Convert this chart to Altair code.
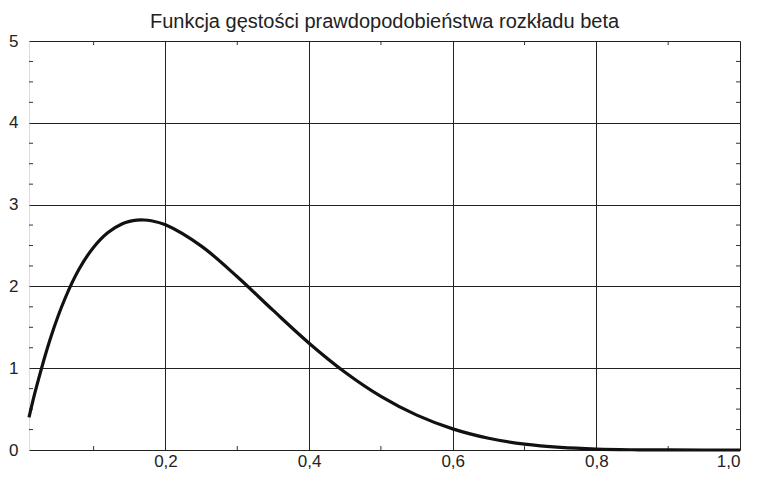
import altair as alt
import pandas as pd

title = "Funkcja gęstości prawdopodobieństwa rozkładu beta"

x_vals = [0.01, 0.02, 0.04, 0.06, 0.08, 0.10, 0.12, 0.14, 0.15, 0.16, 0.17, 0.18, 0.20,
          0.25, 0.30, 0.35, 0.40, 0.45, 0.50, 0.55, 0.60, 0.65, 0.70, 0.75,
          0.80, 0.85, 0.90, 0.95, 1.00]
y_vals = [0.399, 0.759, 1.370, 1.849, 2.215, 2.480, 2.660, 2.766, 2.795, 2.810, 2.812, 2.803, 2.753,
          2.492, 2.118, 1.706, 1.306, 0.951, 0.656, 0.426, 0.258, 0.143, 0.071, 0.031,
          0.011, 0.003, 0.0004, 0.0, 0.0]

x_major = [0.2, 0.4, 0.6, 0.8, 1.0]
y_major = [0, 1, 2, 3, 4, 5]
x_minor = [0.1, 0.3, 0.5, 0.7, 0.9]
y_minor = [0.25, 0.5, 0.75, 1.25, 1.5, 1.75, 2.25, 2.5, 2.75, 3.25, 3.5, 3.75,
           4.25, 4.5, 4.75]

W, H = 711, 409
FONT = "Liberation Sans"

df = pd.DataFrame({"x": x_vals, "y": y_vals})
xs = alt.Scale(domain=[0.01, 1.0], nice=False, zero=False)
ys = alt.Scale(domain=[0, 5], nice=False)

line = alt.Chart(df).mark_line(color="#111111", strokeWidth=3.2, interpolate="catmull-rom").encode(
    x=alt.X("x:Q", scale=xs, title=None,
            axis=alt.Axis(values=x_major, labelExpr="replace(format(datum.value, '.1f'), '.', ',')",
                          grid=True, gridColor="#222222", gridWidth=1, ticks=False, domain=False,
                          labelFont=FONT, labelFontSize=17, labelColor="#222222", labelPadding=3)),
    y=alt.Y("y:Q", scale=ys, title=None,
            axis=alt.Axis(values=y_major, format="d",
                          grid=True, gridColor="#222222", gridWidth=1, ticks=False, domain=False,
                          labelFont=FONT, labelFontSize=17, labelColor="#222222", labelPadding=11)),
)

xm = pd.DataFrame({"x": x_minor})
ym = pd.DataFrame({"y": y_minor})

xmin_bottom = alt.Chart(xm).mark_rule(color="#333333", strokeWidth=1).encode(
    x=alt.X("x:Q", scale=xs), y=alt.value(H), y2=alt.value(H - 4))
xmin_top = alt.Chart(xm).mark_rule(color="#333333", strokeWidth=1).encode(
    x=alt.X("x:Q", scale=xs), y=alt.value(0), y2=alt.value(4))
ymin_left = alt.Chart(ym).mark_rule(color="#333333", strokeWidth=1).encode(
    y=alt.Y("y:Q", scale=ys), x=alt.value(0), x2=alt.value(4))
ymin_right = alt.Chart(ym).mark_rule(color="#333333", strokeWidth=1).encode(
    y=alt.Y("y:Q", scale=ys), x=alt.value(W), x2=alt.value(W - 4))

chart = alt.layer(xmin_bottom, xmin_top, ymin_left, ymin_right, line).properties(
    width=W, height=H,
    title=alt.TitleParams(title, font=FONT, fontSize=20, fontWeight="normal",
                          color="#222222", anchor="middle", offset=0),
    autosize=alt.AutoSizeParams(type="none"),
    padding={"left": 21, "top": 33, "right": 10, "bottom": 23},
).configure_view(stroke="#111111", strokeWidth=1.2).configure(background="white")

chart.save("out.html", embed_options={"renderer": "svg", "actions": False})
